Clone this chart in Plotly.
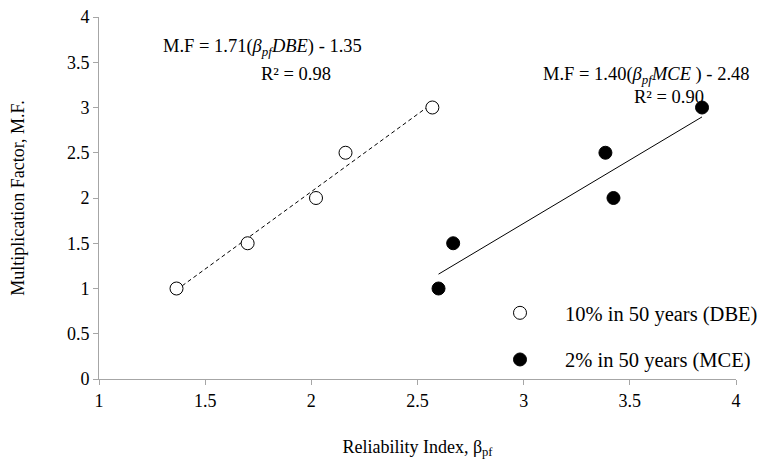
import plotly.graph_objects as go

# Data
dbe_beta = [1.365, 1.70, 2.022, 2.161, 2.570]
dbe_mf = [1.0, 1.5, 2.0, 2.5, 3.0]
mce_beta = [2.599, 2.668, 3.423, 3.385, 3.84]
mce_mf = [1.0, 1.5, 2.0, 2.5, 3.0]

# Trendline coefficients (from the chart's equations)
dbe_slope, dbe_int = 1.71, -1.35
mce_slope, mce_int = 1.40, -2.48

x_ticks = [1, 1.5, 2, 2.5, 3, 3.5, 4]
y_ticks = [0, 0.5, 1, 1.5, 2, 2.5, 3, 3.5, 4]

FONT = "Liberation Serif"

dbe_tx = [min(dbe_beta), max(dbe_beta)]
dbe_ty = [dbe_slope * v + dbe_int for v in dbe_tx]
mce_tx = [min(mce_beta), max(mce_beta)]
mce_ty = [mce_slope * v + mce_int for v in mce_tx]

fig = go.Figure()
fig.add_trace(go.Scatter(x=dbe_tx, y=dbe_ty, mode="lines", showlegend=False,
                         legendgroup="dbe", hoverinfo="skip",
                         line=dict(color="black", width=1, dash="4px,3px")))
fig.add_trace(go.Scatter(x=mce_tx, y=mce_ty, mode="lines", showlegend=False,
                         legendgroup="mce", hoverinfo="skip",
                         line=dict(color="black", width=1)))
fig.add_trace(go.Scatter(x=dbe_beta, y=dbe_mf, mode="markers", name="10% in 50 years (DBE)",
                         legendgroup="dbe",
                         marker=dict(symbol="circle", size=13, color="white",
                                     line=dict(color="black", width=1))))
fig.add_trace(go.Scatter(x=mce_beta, y=mce_mf, mode="markers", name="2% in 50 years (MCE)",
                         legendgroup="mce",
                         marker=dict(symbol="circle", size=13, color="black",
                                     line=dict(color="black", width=1))))

axis_common = dict(showgrid=False, zeroline=False, showline=True, linecolor="#a6a6a6",
                   linewidth=1, ticks="outside", ticklen=5, tickcolor="#a6a6a6",
                   automargin=False, ticklabeloverflow="allow",
                   tickfont=dict(family=FONT, size=18, color="black"))

fig.update_xaxes(range=[1, 4], tickvals=x_ticks, ticktext=[f"{v:g}" for v in x_ticks],
                 title=dict(text="Reliability Index, β<sub>pf</sub>",
                            font=dict(family=FONT, size=18, color="black"), standoff=30),
                 **axis_common)
fig.update_yaxes(range=[0, 4], tickvals=y_ticks, ticktext=[f"{v:g}" for v in y_ticks],
                 title=dict(text="Multiplication Factor, M.F.",
                            font=dict(family=FONT, size=18, color="black"), standoff=37),
                 **axis_common)

# Page has an 8px body margin; plot area in screen pixels: x 99..736, y 17..379
OFF = 8
W, H = 777 - OFF, 473 - OFF
L, T = 99 - OFF, 17 - OFF
R, B = 41, 94
pw, ph = W - L - R, H - T - B
PX0, PY1 = 99, 379  # screen pixel of plot left / bottom

ann_font = dict(family=FONT, size=18.5, color="black")
ann_specs = [
    (262, 47, "M.F = 1.71(<i>β<sub>pf</sub></i><i>DBE</i>) - 1.35"),
    (296, 74, "R² = 0.98"),
    (646, 75, "M.F = 1.40(<i>β<sub>pf</sub></i><i>MCE </i>) - 2.48"),
    (669, 97, "R² = 0.90"),
]
for px, py, txt in ann_specs:
    fig.add_annotation(x=(px - PX0) / pw, y=(PY1 - py) / ph, xref="paper", yref="paper",
                       xanchor="center", yanchor="middle", showarrow=False,
                       text=txt, font=ann_font)

fig.update_layout(
    width=W, height=H,
    margin=dict(l=L, r=R, t=T, b=B, autoexpand=False),
    plot_bgcolor="white", paper_bgcolor="white",
    font=dict(family=FONT, color="black"),
    showlegend=True,
    legend=dict(x=(475 - PX0) / pw, y=(PY1 - 293) / ph, xanchor="left", yanchor="top",
                bgcolor="rgba(0,0,0,0)", font=dict(family=FONT, size=20.5, color="black"),
                traceorder="grouped", tracegroupgap=17, itemwidth=80),
)

fig.write_html("out.html")
